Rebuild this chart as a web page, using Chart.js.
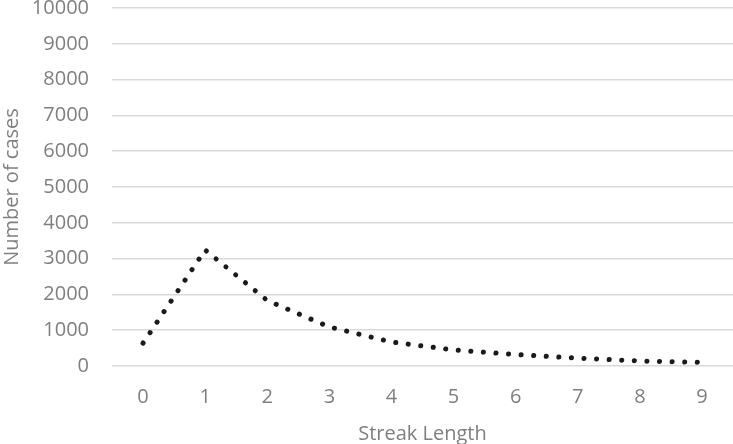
<!DOCTYPE html>
<html>
<head>
<meta charset="utf-8">
<script src="https://cdn.jsdelivr.net/npm/chart.js@4/dist/chart.umd.min.js"></script>
<style>
  html, body { margin: 0; padding: 0; background: #fff; }
  #wrap { width: 733px; height: 444px; }
</style>
</head>
<body>
<div id="wrap"><canvas id="c"></canvas></div>
<script>
// streak length categories and case counts
const streakLengths = ['0', '1', '2', '3', '4', '5', '6', '7', '8', '9'];
const caseCounts = [640, 3240, 1830, 1090, 670, 450, 320, 220, 140, 100];
const yTicks = [0, 1000, 2000, 3000, 4000, 5000, 6000, 7000, 8000, 9000, 10000];

const grey = '#7f7f7f';
const font = 'Open Sans';

new Chart(document.getElementById('c'), {
  type: 'line',
  data: {
    labels: streakLengths,
    datasets: [{
      data: caseCounts,
      borderColor: '#1a1a1a',
      borderWidth: 5,
      borderCapStyle: 'round',
      borderDash: [0.1, 12.5],
      pointRadius: 0,
      tension: 0,
      fill: false
    }]
  },
  options: {
    responsive: true,
    maintainAspectRatio: false,
    animation: false,
    layout: { padding: { top: 8, right: 0, left: 0, bottom: 0 } },
    plugins: { legend: { display: false }, tooltip: { enabled: false } },
    scales: {
      x: {
        offset: true,
        // fix the axis band so the plot bottom sits where the reference has it
        afterFit: (axis) => { axis.height = 78; },
        grid: { display: false, drawTicks: false },
        border: { display: false },
        ticks: { color: grey, font: { family: font, size: 20 }, padding: 19 },
        title: { display: true, text: 'Streak Length', color: grey, font: { family: font, size: 20 }, padding: { top: 6, bottom: -2 } }
      },
      y: {
        min: 0,
        max: 10000,
        afterBuildTicks: (axis) => { axis.ticks = yTicks.map(v => ({ value: v })); },
        afterFit: (axis) => { axis.paddingTop = 0; axis.width = 112; },
        grid: { color: '#d9d9d9', lineWidth: 1.5, drawTicks: false },
        border: { display: false },
        ticks: { color: grey, font: { family: font, size: 20 }, padding: 23, callback: (v) => String(v) },
        title: { display: true, text: 'Number of cases', color: grey, font: { family: font, size: 20 }, padding: { top: 0, bottom: 4 } }
      }
    }
  }
});
</script>
</body>
</html>
